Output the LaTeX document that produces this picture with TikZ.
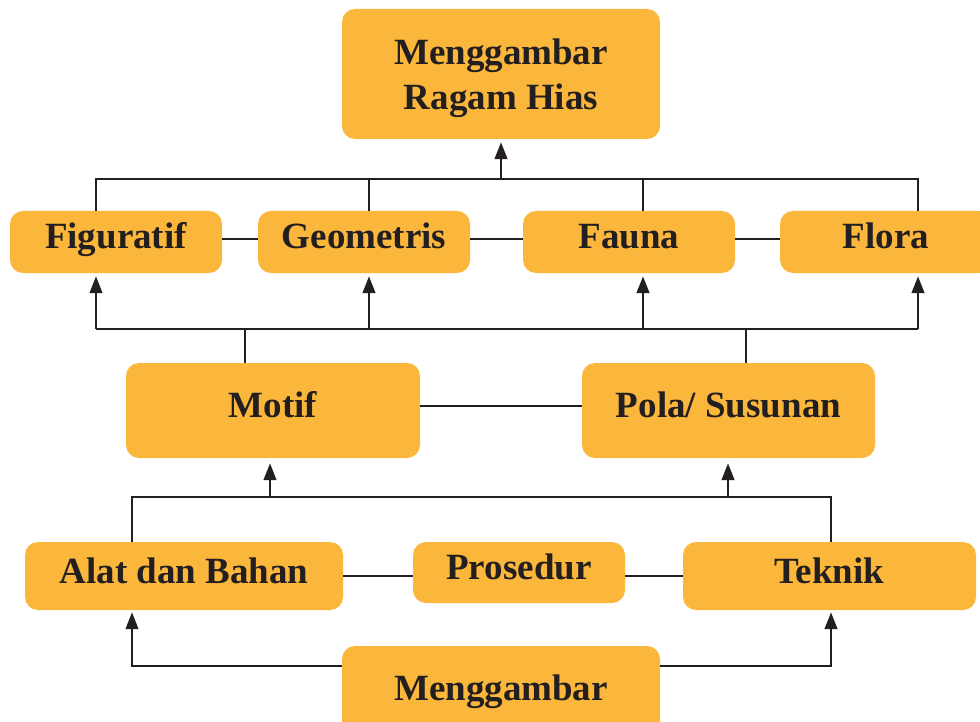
\documentclass[tikz,border=0pt]{standalone}
\usepackage{fontspec}
\setmainfont{Liberation Serif}
\usetikzlibrary{arrows.meta}
\definecolor{boxfill}{HTML}{FBB73B}
\definecolor{ink}{HTML}{231F20}
\tikzset{
  box/.style={rectangle, rounded corners=13pt, fill=boxfill, inner sep=0pt,
    font=\bfseries\fontsize{37}{45}\selectfont, text=ink,
    text height=22pt, text depth=8pt},
  plaintext/.style={inner sep=0pt, font=\bfseries\fontsize{37}{45}\selectfont, text=ink},
  conn/.style={draw=ink, line width=2.8pt},
  arr/.style={conn, -{Triangle[length=17pt,width=12.5pt]}}
}
\begin{document}
\begin{tikzpicture}[x=1pt,y=-1pt]
\useasboundingbox (0,0) rectangle (980,722);
\clip (0,0) rectangle (980,722);
\fill[white] (0,0) rectangle (980,722);

% boxes
\node[box, minimum width=318pt, minimum height=130pt] (top) at (501,74) {};
\node[plaintext, anchor=base] (topA) at (501,65) {Menggambar};
\node[plaintext, anchor=base] (topB) at (501,110) {Ragam Hias};

\node[box, minimum width=212pt, minimum height=62pt] (fig) at (116,242) {Figuratif};
\node[box, minimum width=212pt, minimum height=62pt] (geo) at (364,242) {Geometris};
\node[box, minimum width=212pt, minimum height=62pt] (fau) at (629,242) {Fauna};
\node[box, minimum width=212pt, minimum height=62pt] (flo) at (886,242) {Flora};

\node[box, minimum width=294pt, minimum height=95pt] (mot) at (273,410.5) {Motif};
\node[box, minimum width=293pt, minimum height=95pt] (pol) at (728.5,410.5) {Pola/ Susunan};

\node[box, minimum width=318pt, minimum height=68pt] (ala) at (184,576) {Alat dan Bahan};
\node[box, minimum width=212pt, minimum height=61pt] (pro) at (519,572.5) {Prosedur};
\node[box, minimum width=293pt, minimum height=68pt] (tek) at (829.5,576) {Teknik};

\node[box, minimum width=318pt, minimum height=94pt] (bot) at (501,693) {Menggambar};

% junction coordinates
\coordinate (busTopL) at (96,179);
\coordinate (busTopR) at (918,179);
\coordinate (busMidL) at (96,329);
\coordinate (busMidR) at (918,329);
\coordinate (busLowL) at (132,497);
\coordinate (busLowR) at (831,497);
\coordinate (busBotL) at (132,666);
\coordinate (busBotR) at (831,666);

% top bus
\draw[conn] (96,0 |- fig.north) -- (busTopL) -- (busTopR) -- (918,0 |- flo.north);
\draw[conn] (369,0 |- geo.north) -- (369,179);
\draw[conn] (643,0 |- fau.north) -- (643,179);
\draw[arr, shorten >=3pt] (top.south |- busTopL) -- (top.south);

% row links
\draw[conn] ([yshift=3pt]fig.east) -- ([yshift=3pt]geo.west);
\draw[conn] ([yshift=3pt]geo.east) -- ([yshift=3pt]fau.west);
\draw[conn] ([yshift=3pt]fau.east) -- ([yshift=3pt]flo.west);

% middle bus
\draw[conn] (busMidL) -- (busMidR);
\draw[conn] (245,0 |- mot.north) -- (245,329);
\draw[conn] (746,0 |- pol.north) -- (746,329);
\draw[arr, shorten >=3pt] (busMidL) -- (96,0 |- fig.south);
\draw[arr, shorten >=3pt] (369,329) -- (369,0 |- geo.south);
\draw[arr, shorten >=3pt] (643,329) -- (643,0 |- fau.south);
\draw[arr, shorten >=3pt] (busMidR) -- (918,0 |- flo.south);

\draw[conn] ([yshift=4.5pt]mot.east) -- ([yshift=4.5pt]pol.west);

% lower bus
\draw[conn] (132,0 |- ala.north) -- (busLowL) -- (busLowR) -- (831,0 |- tek.north);
\draw[arr, shorten >=5pt] (270,497) -- (270,0 |- mot.south);
\draw[arr, shorten >=5pt] (728,497) -- (728,0 |- pol.south);

\draw[conn] (ala.east) -- (ala.east -| pro.west);
\draw[conn] (pro.east |- tek.west) -- (tek.west);

% bottom links
\draw[arr, shorten >=2pt] (bot.west |- busBotL) -- (busBotL) -- (132,0 |- ala.south);
\draw[arr, shorten >=2pt] (bot.east |- busBotR) -- (busBotR) -- (831,0 |- tek.south);
\end{tikzpicture}
\end{document}
